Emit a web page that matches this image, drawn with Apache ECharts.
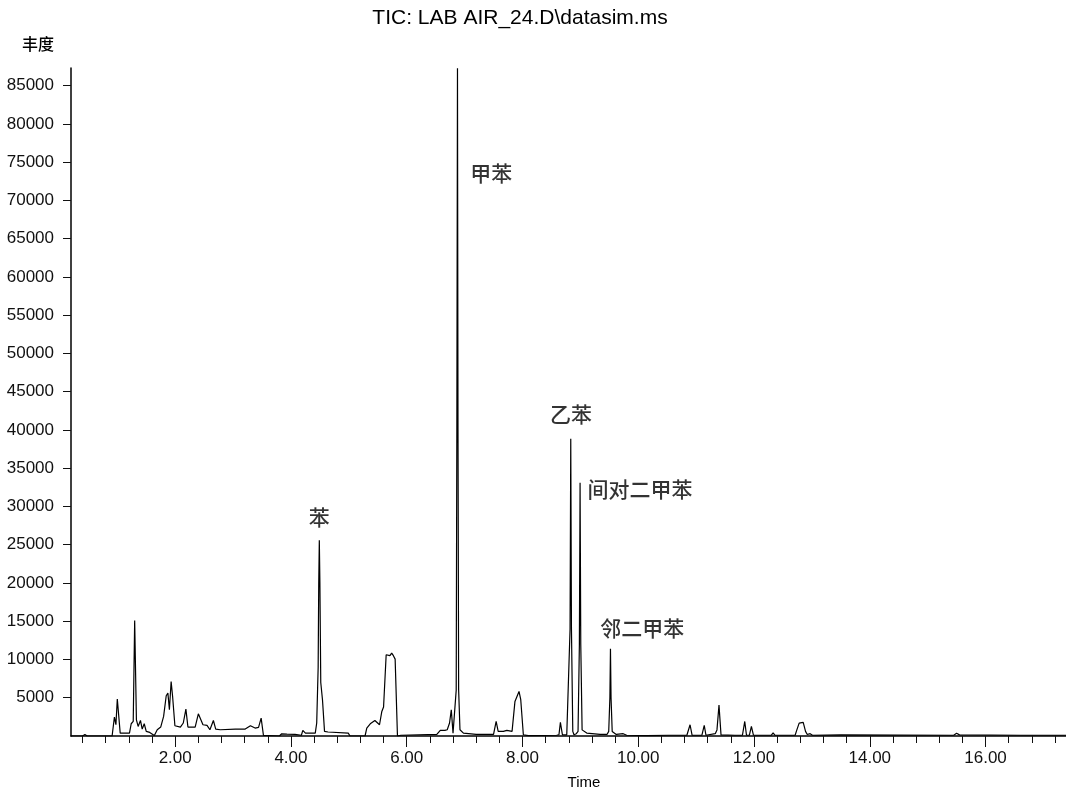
<!DOCTYPE html>
<html>
<head>
<meta charset="utf-8">
<script src="https://cdn.jsdelivr.net/npm/echarts@6/dist/echarts.min.js"></script>
<style>
html,body{margin:0;padding:0;background:#fff;}
#chart{width:1066px;height:793px;}
</style>
</head>
<body>
<div id="chart"></div>
<script>
// ---- data ----
const chartTitle = 'TIC: LAB AIR_24.D\\datasim.ms';
const yAxisName = '丰度';
const xAxisName = 'Time';

// retention time (min)
const times = [
  0.20,0.40,0.44,0.48,0.80,0.82,0.85,0.91,0.95,0.976,1.00,1.05,1.21,1.24,1.275,1.30,1.33,1.36,1.40,1.43,
  1.465,1.50,1.56,1.58,1.64,1.69,1.75,1.80,1.845,1.874,1.90,1.93,1.955,1.995,2.09,2.14,2.185,2.22,2.345,2.40,
  2.43,2.48,2.55,2.60,2.66,2.70,2.78,3.04,3.21,3.30,3.38,3.44,3.485,3.525,3.55,3.80,3.84,3.93,4.07,4.18,
  4.205,4.25,4.275,4.42,4.445,4.47,4.48,4.49,4.50,4.515,4.545,4.58,4.64,4.99,5.02,5.28,5.31,5.37,5.45,5.53,
  5.57,5.60,5.645,5.71,5.74,5.77,5.80,5.84,5.90,6.52,6.58,6.66,6.70,6.74,6.77,6.80,6.83,6.855,6.866,6.877,
  6.886,6.897,6.92,6.98,7.20,7.50,7.53,7.545,7.58,7.67,7.73,7.76,7.82,7.87,7.90,7.94,7.97,8.015,8.10,8.59,
  8.63,8.655,8.69,8.765,8.795,8.822,8.834,8.846,8.869,8.89,8.93,8.96,8.983,8.995,9.007,9.03,9.05,9.11,9.34,9.46,
  9.49,9.51,9.52,9.53,9.55,9.57,9.62,9.74,9.80,10.15,10.52,10.84,10.895,10.93,11.10,11.14,11.17,11.33,11.36,11.395,
  11.43,11.67,11.70,11.73,11.80,11.84,11.87,11.92,11.955,11.99,12.30,12.33,12.36,12.71,12.74,12.78,12.81,12.85,12.89,12.92,
  12.97,13.01,13.50,15.45,15.50,15.55,16.60,17.39
];
// abundance
const abundance = [
  0,0,200,0,0,200,0,0,2480,1470,4830,380,380,1600,1900,15100,2120,1250,2030,900,
  1600,600,470,600,70,820,1170,2560,5260,5610,3430,7130,5200,1340,1170,1700,3520,1170,1170,2900,
  2650,1470,1380,820,2030,900,820,900,900,1340,1040,1130,2340,70,0,0,290,250,200,100,
  730,380,470,380,1700,9000,20000,25600,20000,7000,4700,600,520,380,0,0,1040,1600,2030,1470,
  3210,3800,10620,10500,10840,10500,10050,0,100,200,730,730,820,1700,3430,380,380,6000,40000,87300,
  40000,6000,820,380,200,200,380,1900,600,600,730,730,600,4520,4740,5830,4740,160,50,100,
  160,1780,160,160,300,14000,38850,14000,600,160,300,600,12000,33100,12000,800,600,380,200,200,
  600,5000,11400,5000,600,380,200,300,100,50,100,100,1470,100,100,1380,100,300,800,4040,
  150,100,300,100,100,1900,100,100,1250,100,100,400,100,100,800,1690,1470,1780,600,200,
  300,100,150,100,350,150,100,100
];

// peak annotations
const peakNames = ['苯','甲苯','乙苯','间对二甲苯','邻二甲苯'];
const peakTimes = [4.49, 7.46, 8.84, 10.03, 10.07];
const peakLabelY = [28660, 73620, 42120, 32300, 14080];

// axis ticks
const yTicks = [5000,10000,15000,20000,25000,30000,35000,40000,45000,50000,55000,60000,65000,70000,75000,80000,85000];
const xMajorTicks = [2,4,6,8,10,12,14,16];
const xMinorTicks = [];
for (let i = 1; i <= 43; i++) xMinorTicks.push(+(i * 0.4).toFixed(1));

const X_MIN = 0.2, X_MAX = 17.39, Y_MAX = 87320;

const series = times.map((t, i) => [t, abundance[i]]);
const labels = peakNames.map((n, i) => ({ value: [peakTimes[i], peakLabelY[i]], name: n }));

const numFont = "'Liberation Sans',sans-serif";
const cjkFont = "'Noto Sans CJK SC',sans-serif";

const chart = echarts.init(document.getElementById('chart'), null, { renderer: 'canvas' });
chart.setOption({
  animation: false,
  backgroundColor: '#fff',
  grid: { left: 71, right: 0, top: 68, bottom: 57, containLabel: false, outerBoundsMode: 'none' },
  xAxis: [
    {
      type: 'value', min: X_MIN, max: X_MAX,
      axisLine: { show: true, lineStyle: { color: '#000', width: 1.5 } },
      axisTick: { show: true, customValues: xMajorTicks, length: 11, lineStyle: { color: '#111', width: 1 } },
      axisLabel: { show: true, customValues: xMajorTicks, margin: 14, color: '#111',
        fontFamily: numFont, fontSize: 17, formatter: v => v.toFixed(2) },
      splitLine: { show: false }
    },
    {
      type: 'value', min: X_MIN, max: X_MAX, position: 'bottom',
      axisLine: { show: false },
      axisTick: { show: true, customValues: xMinorTicks, length: 7, lineStyle: { color: '#111', width: 1 } },
      axisLabel: { show: false },
      splitLine: { show: false }
    }
  ],
  yAxis: {
    type: 'value', min: 0, max: Y_MAX,
    axisLine: { show: true, lineStyle: { color: '#000', width: 1.5 } },
    axisTick: { show: true, customValues: yTicks, length: 8, lineStyle: { color: '#111', width: 1 } },
    axisLabel: { show: true, customValues: yTicks, margin: 17, color: '#111',
      fontFamily: numFont, fontSize: 17, formatter: v => String(v) },
    splitLine: { show: false }
  },
  series: [
    {
      type: 'line', xAxisIndex: 0, data: series, showSymbol: false, symbol: 'none',
      lineStyle: { color: '#000', width: 1.2 }, clip: true
    },
    {
      type: 'scatter', xAxisIndex: 0, data: labels, symbolSize: 1,
      itemStyle: { color: 'rgba(0,0,0,0)' },
      label: { show: true, position: 'inside', formatter: p => p.name,
        color: '#000', fontFamily: cjkFont, fontSize: 21, fontWeight: 500 }
    }
  ],
  graphic: [
    { type: 'text', x: 520, y: 8, style: { text: chartTitle, align: 'center',
      font: "21px 'Liberation Sans',sans-serif", fill: '#000' } },
    { type: 'text', x: 22, y: 36, style: { text: yAxisName, font: "500 16px 'Noto Sans CJK SC',sans-serif", fill: '#000' } },
    { type: 'text', x: 584, y: 775, style: { text: xAxisName, align: 'center', font: "15px 'Liberation Sans',sans-serif", fill: '#000' } }
  ]
});
</script>
</body>
</html>
